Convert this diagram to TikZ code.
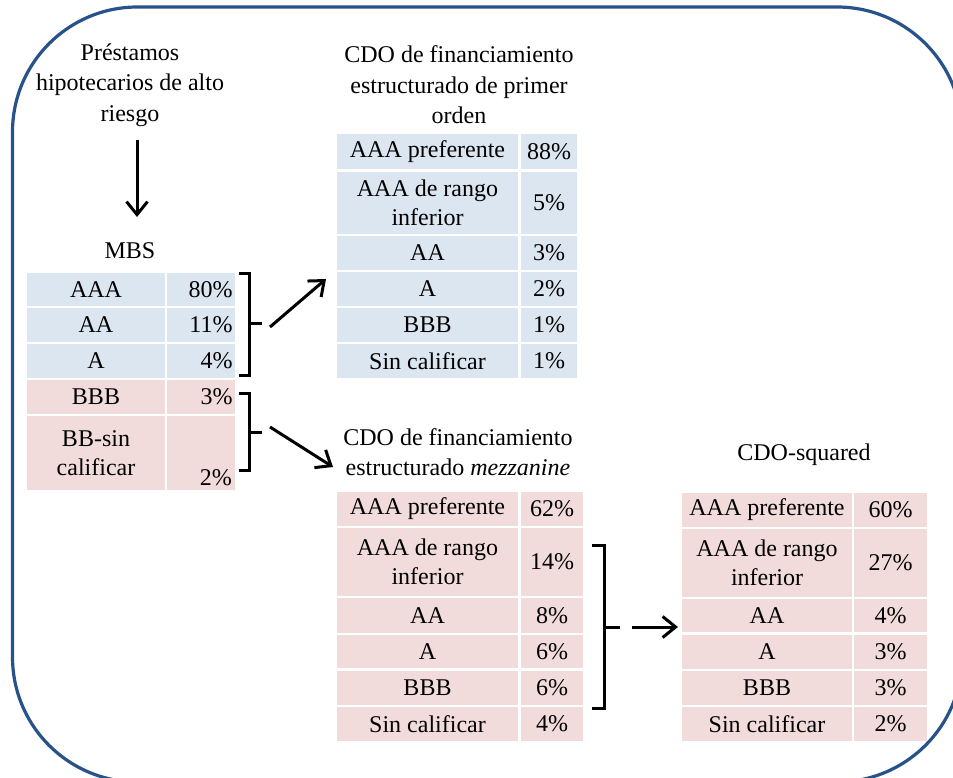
\documentclass[tikz,border=0pt]{standalone}
\usepackage{fontspec}
\setmainfont{Liberation Serif}
\usetikzlibrary{arrows.meta}
\definecolor{cblue}{RGB}{220,230,241}
\definecolor{cpink}{RGB}{242,220,219}
\definecolor{framec}{RGB}{40,82,138}
\newcommand\Cell[7]{\node[#1, minimum width={(#5)-(#3)}, minimum height={(#6)-(#4)}] (#2) at ({((#3)+(#5))/2},{((#4)+(#6))/2}) {#7};}
\begin{document}
\begin{tikzpicture}[x=1pt,y=-1pt,
  txt/.style={font=\fontsize{24}{29}\selectfont, inner sep=0pt, align=center},
  ttl/.style={txt, font=\fontsize{24}{30.5}\selectfont},
  cellb/.style={txt, fill=cblue},
  cellp/.style={txt, fill=cpink},
  rcell/.style={text width=63pt, align=right},
  brk/.style={line width=3pt, black},
  arr/.style={line width=3pt, black, -{Straight Barb[length=13pt,width=21pt,line width=3pt]}},
  frame/.style={line width=3.2pt, draw=framec, rounded corners=125pt}]
\useasboundingbox (0,0) rectangle (953,778);
\clip (0,0) rectangle (953,778);
\fill[white] (0,0) rectangle (953,778);
% frame
\draw[frame] (12.5,7) rectangle (962,782);

% Top-left text and MBS
\node[ttl] (prest) at (130,85) {Préstamos\\hipotecarios de alto\\riesgo};
\coordinate (d1) at (137,140);
\coordinate (d2) at (137,217);
\draw[arr] (d1) -- (d2);
\node[txt] (mbs) at (130,251) {MBS};

% MBS table
\Cell{cellb}{m1a}{27}{273}{165}{306}{AAA}
\Cell{cellb,rcell}{m1b}{167}{273}{235}{306}{80\%}
\Cell{cellb}{m2a}{27}{308}{165}{342}{AA}
\Cell{cellb,rcell}{m2b}{167}{308}{235}{342}{11\%}
\Cell{cellb}{m3a}{27}{344}{165}{378}{A}
\Cell{cellb,rcell}{m3b}{167}{344}{235}{378}{4\%}
\Cell{cellp}{m4a}{27}{380}{165}{414}{BBB}
\Cell{cellp,rcell}{m4b}{167}{380}{235}{414}{3\%}
\Cell{cellp}{m5a}{27}{416}{165}{490}{BB-sin\\calificar}
\Cell{cellp}{m5b}{167}{416}{235}{490}{}
\node[txt, anchor=base east] (m5bt) at (232,485) {2\%};

% bracket 1 and arrow to CDO1
\coordinate (b1t) at (239,273);
\coordinate (b1b) at (239,375);
\coordinate (b1m) at (262,323);
\draw[brk] (b1t) -- (249,273) -- (249,375) -- (b1b);
\draw[brk] (249,323) -- (b1m);
\coordinate (a1s) at (270,327);
\coordinate (a1e) at (326,279);
\draw[arr] (a1s) -- (a1e);

% bracket 2 and arrow to mezzanine
\coordinate (b2t) at (239,393);
\coordinate (b2b) at (239,470);
\coordinate (b2m) at (262,432);
\draw[brk] (b2t) -- (249,393) -- (249,470) -- (b2b);
\draw[brk] (249,432) -- (b2m);
\coordinate (a2s) at (270,427);
\coordinate (a2e) at (333,467);
\draw[arr] (a2s) -- (a2e);

% CDO primer orden
\node[ttl] (t1) at (459,85) {CDO de financiamiento\\estructurado de primer\\orden};
\Cell{cellb}{c1a}{337}{134}{518}{169}{AAA preferente}
\Cell{cellb}{c1b}{521}{134}{577}{169}{88\%}
\Cell{cellb}{c2a}{337}{172}{518}{234}{AAA de rango\\inferior}
\Cell{cellb}{c2b}{521}{172}{577}{234}{5\%}
\Cell{cellb}{c3a}{337}{236}{518}{270}{AA}
\Cell{cellb}{c3b}{521}{236}{577}{270}{3\%}
\Cell{cellb}{c4a}{337}{272}{518}{306}{A}
\Cell{cellb}{c4b}{521}{272}{577}{306}{2\%}
\Cell{cellb}{c5a}{337}{308}{518}{342}{BBB}
\Cell{cellb}{c5b}{521}{308}{577}{342}{1\%}
\Cell{cellb}{c6a}{337}{344}{518}{378}{Sin calificar}
\Cell{cellb}{c6b}{521}{344}{577}{378}{1\%}

% CDO mezzanine
\node[ttl] (t2) at (458,452) {CDO de financiamiento\\estructurado \textit{mezzanine}};
\Cell{cellp}{z1a}{337}{492}{518}{526}{AAA preferente}
\Cell{cellp}{z1b}{521}{492}{583}{526}{62\%}
\Cell{cellp}{z2a}{337}{528}{518}{596}{AAA de rango\\inferior}
\Cell{cellp}{z2b}{521}{528}{583}{596}{14\%}
\Cell{cellp}{z3a}{337}{598}{518}{633}{AA}
\Cell{cellp}{z3b}{521}{598}{583}{633}{8\%}
\Cell{cellp}{z4a}{337}{635}{518}{668}{A}
\Cell{cellp}{z4b}{521}{635}{583}{668}{6\%}
\Cell{cellp}{z5a}{337}{671}{518}{705}{BBB}
\Cell{cellp}{z5b}{521}{671}{583}{705}{6\%}
\Cell{cellp}{z6a}{337}{707}{518}{741}{Sin calificar}
\Cell{cellp}{z6b}{521}{707}{583}{741}{4\%}

% bracket 3 and arrow to squared
\coordinate (b3t) at (592,545);
\coordinate (b3b) at (592,708);
\coordinate (b3m) at (620,627);
\draw[brk] (b3t) -- (604,545) -- (604,708) -- (b3b);
\draw[brk] (604,627) -- (b3m);
\coordinate (a3s) at (632,627);
\coordinate (a3e) at (678,627);
\draw[arr] (a3s) -- (a3e);

% CDO-squared
\node[ttl] (t3) at (804,455) {CDO-squared};
\Cell{cellp}{s1a}{682}{493}{852}{527}{AAA preferente}
\Cell{cellp}{s1b}{854}{493}{927}{527}{60\%}
\Cell{cellp}{s2a}{682}{529}{852}{597}{AAA de rango\\inferior}
\Cell{cellp}{s2b}{854}{529}{927}{597}{27\%}
\Cell{cellp}{s3a}{682}{599}{852}{632}{AA}
\Cell{cellp}{s3b}{854}{599}{927}{632}{4\%}
\Cell{cellp}{s4a}{682}{635}{852}{669}{A}
\Cell{cellp}{s4b}{854}{635}{927}{669}{3\%}
\Cell{cellp}{s5a}{682}{671}{852}{705}{BBB}
\Cell{cellp}{s5b}{854}{671}{927}{705}{3\%}
\Cell{cellp}{s6a}{682}{707}{852}{741}{Sin calificar}
\Cell{cellp}{s6b}{854}{707}{927}{741}{2\%}
\end{tikzpicture}
\end{document}
